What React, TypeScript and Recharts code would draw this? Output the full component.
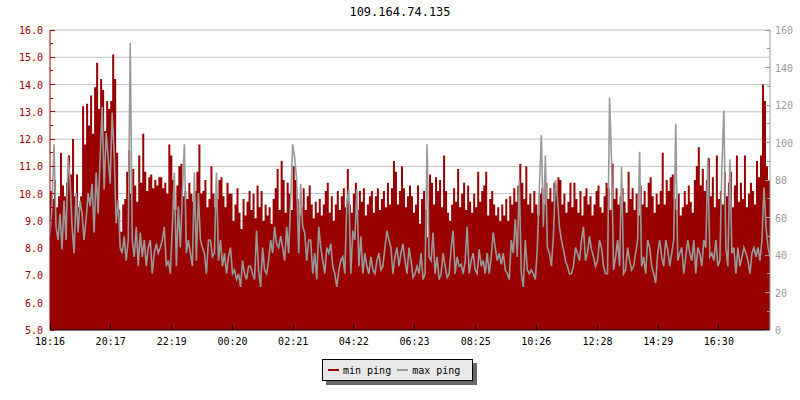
import React from "react";
import {
  Area,
  CartesianGrid,
  ComposedChart,
  Line,
  XAxis,
  YAxis,
} from "recharts";

const FONT = "'DejaVu Sans Mono', monospace";
const RED = "#990000";
const GRAY = "#999999";

const title = "109.164.74.135";

// one sample every 4 minutes, starting 18:16
const stepMinutes = 4;

const timeLabels = [
  "18:16", "20:17", "22:19", "00:20", "02:21", "04:22",
  "06:23", "08:25", "10:26", "12:28", "14:29", "16:30",
];

const leftTicks = [
  5, 5.5, 6, 6.5, 7, 7.5, 8, 8.5, 9, 9.5, 10, 10.5, 11, 11.5, 12, 12.5,
  13, 13.5, 14, 14.5, 15, 15.5, 16,
];
const gridValues = [6, 7, 8, 9, 10, 11, 12, 13, 14, 15, 16];
const rightTicks = [0, 10, 20, 30, 40, 50, 60, 70, 80, 90, 100, 110, 120, 130, 140, 150, 160];

// min ping (ms, left axis) 18:16 - 00:16
const minPingA = [
  10.1, 9.8, 10.5, 9.5, 9.9, 11.5, 10.3, 9.9, 10.4, 11.4,
  10.7, 12.0, 9.9, 10.7, 9.5, 9.9, 13.2, 11.8, 13.3, 12.5,
  13.6, 12.2, 13.9, 14.8, 13.1, 14.2, 13.8, 12.3, 13.4, 13.1,
  13.4, 15.1, 14.2, 11.5, 9.4, 8.6, 9.6, 9.8, 10.8, 11.6,
  10.0, 10.9, 10.3, 9.7, 11.4, 10.4, 12.2, 10.8, 10.1, 10.6,
  10.7, 10.2, 10.5, 10.3, 10.6, 10.6, 10.2, 10.4, 10.0, 11.8,
  11.4, 10.5, 9.4, 10.3, 11.0, 11.1, 9.9, 10.1, 9.8, 10.4,
  10.0, 9.7, 10.1, 10.8, 11.8, 10.0, 10.1, 10.5, 9.5, 9.8,
  11.0, 10.0, 9.5, 9.8, 10.5, 10.6, 9.9, 9.5, 10.4, 10.0,
];
// min ping 00:16 - 06:16
const minPingB = [
  10.0, 9.0, 9.6, 10.2, 9.3, 8.7, 9.8, 9.2, 9.7, 10.1,
  9.4, 10.0, 9.1, 10.3, 9.5, 10.1, 9.0, 9.6, 9.2, 9.5,
  8.9, 9.8, 10.2, 10.9, 9.4, 11.2, 10.5, 9.3, 10.4, 10.0,
  9.4, 11.0, 10.5, 9.8, 9.2, 9.5, 10.2, 9.4, 9.9, 10.3,
  9.6, 9.1, 9.7, 9.3, 9.8, 9.2, 9.6, 10.1, 10.4, 9.3,
  9.9, 9.0, 9.6, 10.1, 9.4, 9.9, 10.2, 9.5, 10.9, 9.6,
  9.3, 10.0, 10.4, 9.4, 10.1, 9.7, 10.2, 9.2, 9.6, 9.9,
  10.1, 9.3, 9.9, 10.2, 9.4, 9.8, 10.1, 9.5, 10.4, 9.6,
  10.2, 11.2, 10.8, 9.6, 10.1, 11.0, 10.2, 9.5, 9.9, 10.3,
];
// min ping 06:16 - 12:16
const minPingC = [
  9.9, 9.3, 9.6, 10.3, 8.9, 9.8, 10.1, 9.4, 8.4, 10.7,
  10.4, 9.6, 10.6, 10.1, 10.5, 9.5, 11.4, 10.1, 9.3, 9.0,
  9.6, 10.2, 9.7, 10.9, 9.5, 10.0, 10.4, 9.4, 10.3, 9.7,
  9.3, 10.0, 9.5, 10.8, 9.7, 10.1, 10.3, 10.8, 9.2, 9.8,
  10.1, 9.6, 9.2, 9.5, 9.0, 9.6, 9.2, 9.8, 9.0, 9.9,
  9.6, 10.2, 9.7, 10.3, 11.1, 10.4, 9.8, 11.0, 9.6, 10.0,
  9.3, 10.1, 9.6, 9.2, 10.0, 10.2, 9.6, 10.4, 9.8, 10.2,
  9.7, 10.4, 10.1, 10.6, 10.5, 9.6, 10.0, 9.3, 9.7, 10.4,
  9.5, 10.4, 9.8, 9.3, 10.1, 9.2, 9.9, 10.2, 9.6, 9.9,
];
// min ping 12:16 - 18:12
const minPingD = [
  9.2, 9.6, 10.1, 10.3, 9.5, 9.3, 9.9, 10.4, 10.2, 9.4,
  11.1, 9.8, 10.2, 9.6, 9.9, 10.2, 9.7, 9.3, 10.8, 9.8,
  10.2, 9.4, 10.0, 9.2, 10.3, 9.6, 10.1, 9.5, 10.4, 10.6,
  9.9, 9.3, 10.0, 9.6, 10.1, 11.5, 9.6, 10.5, 10.1, 10.6,
  10.7, 9.8, 9.4, 10.0, 9.2, 9.5, 10.1, 9.6, 10.3, 9.7,
  9.3, 10.5, 11.0, 11.7, 10.3, 10.9, 10.1, 10.5, 11.3, 9.9,
  10.6, 9.5, 11.4, 9.8, 10.1, 9.6, 10.8, 9.9, 10.4, 10.8,
  9.5, 10.3, 11.4, 9.7, 10.4, 9.8, 11.4, 9.5, 10.0, 10.4,
  10.1, 9.6, 11.2, 10.6, 11.4, 14.0, 13.4, 11.0, 10.5, 9.6,
];

// max ping (ms, right axis)
const maxPingA = [
  50, 66, 99, 55, 48, 62, 43, 69, 48, 92,
  80, 55, 41, 73, 52, 69, 62, 48, 59, 73,
  66, 78, 52, 84, 62, 92, 119, 75, 105, 92,
  78, 116, 94, 57, 69, 44, 41, 50, 37, 48,
  153, 48, 39, 55, 34, 52, 39, 48, 34, 44,
  48, 30, 41, 46, 41, 44, 48, 55, 34, 37,
  30, 55, 84, 34, 66, 44, 73, 99, 41, 48,
  41, 34, 84, 37, 73, 48, 44, 41, 30, 48,
  48, 39, 41, 84, 37, 48, 34, 41, 30, 39,
];
const maxPingB = [
  44, 30, 32, 27, 30, 23, 37, 30, 27, 34,
  34, 30, 27, 53, 32, 23, 44, 32, 30, 37,
  48, 41, 55, 46, 44, 50, 44, 37, 55, 41,
  69, 99, 92, 80, 41, 78, 55, 52, 37, 48,
  48, 30, 41, 27, 55, 44, 37, 30, 44, 41,
  46, 34, 30, 23, 32, 37, 39, 30, 68, 75,
  30, 53, 48, 75, 34, 50, 30, 41, 34, 30,
  39, 32, 30, 37, 41, 32, 34, 44, 53, 48,
  44, 30, 39, 44, 34, 41, 46, 37, 30, 44,
];
const maxPingC = [
  37, 28, 30, 34, 30, 41, 27, 30, 99, 39,
  37, 52, 30, 39, 27, 30, 41, 34, 28, 30,
  44, 53, 30, 39, 34, 35, 30, 37, 55, 30,
  37, 41, 32, 30, 43, 34, 37, 30, 41, 30,
  39, 52, 44, 37, 41, 35, 41, 32, 30, 27,
  48, 41, 59, 39, 80, 30, 23, 48, 32, 30,
  32, 30, 27, 44, 76, 104, 55, 93, 44, 41,
  34, 50, 80, 71, 55, 48, 43, 37, 34, 30,
  30, 34, 44, 41, 37, 48, 55, 37, 41, 50,
];
const maxPingD = [
  43, 39, 34, 37, 48, 44, 34, 30, 30, 124,
  90, 32, 39, 48, 34, 87, 30, 32, 44, 37,
  32, 34, 41, 48, 95, 34, 39, 30, 48, 44,
  34, 30, 25, 41, 48, 39, 34, 48, 43, 34,
  41, 48, 110, 37, 41, 44, 30, 39, 48, 41,
  37, 48, 30, 44, 41, 34, 48, 44, 91, 39,
  41, 37, 48, 34, 37, 87, 117, 44, 34, 91,
  41, 44, 30, 44, 34, 39, 44, 41, 37, 30,
  41, 44, 39, 44, 37, 48, 76, 55, 44, 39,
];

const minPing = [...minPingA, ...minPingB, ...minPingC, ...minPingD];
const maxPing = [...maxPingA, ...maxPingB, ...maxPingC, ...maxPingD];

const data = minPing.map((v, i) => ({
  t: i * stepMinutes,
  min: v,
  max: maxPing[i],
}));

const startMinutes = 18 * 60 + 16;
const xTicks = timeLabels.map((label) => {
  const [h, m] = label.split(":").map(Number);
  return (h * 60 + m - startMinutes + 1440) % 1440;
});
const labelFor = (t: number) => timeLabels[xTicks.indexOf(t)] ?? "";

function LeftTick(props: any) {
  const { x, y, payload } = props;
  const v = payload.value as number;
  const major = Number.isInteger(v);
  return (
    <g>
      <line x1={x} x2={x + (major ? 5 : 3)} y1={y} y2={y} stroke={RED} shapeRendering="crispEdges" />
      {major && (
        <text x={x - 7} y={y + 4} textAnchor="end" fill={RED} fontSize={10} fontFamily={FONT}>
          {v.toFixed(1)}
        </text>
      )}
    </g>
  );
}

function RightTick(props: any) {
  const { x, y, payload } = props;
  const v = payload.value as number;
  const major = v % 20 === 0;
  return (
    <g>
      <line x1={x} x2={x - (major ? 5 : 3)} y1={y} y2={y} stroke={GRAY} shapeRendering="crispEdges" />
      {major && (
        <text x={x + 5} y={y + 4} textAnchor="start" fill={GRAY} fontSize={10} fontFamily={FONT}>
          {v}
        </text>
      )}
    </g>
  );
}

function TimeTick(props: any) {
  const { x, y, payload } = props;
  return (
    <g>
      <line x1={x} x2={x} y1={y} y2={y - 5} stroke="#000" shapeRendering="crispEdges" />
      <text x={x} y={y + 15} textAnchor="middle" fill="#000" fontSize={10} fontFamily={FONT}>
        {labelFor(payload.value)}
      </text>
    </g>
  );
}

function LegendBox() {
  const item = (color: string, label: string) => (
    <span style={{ display: "inline-flex", alignItems: "center", marginRight: 6 }}>
      <span style={{ width: 11, height: 2, background: color, marginRight: 4 }} />
      {label}
    </span>
  );
  return (
    <div
      style={{
        position: "absolute",
        left: 322,
        top: 359,
        width: 151,
        height: 22,
        background: "#e8e8e8",
        border: "1px solid #000",
        boxShadow: "4px 4px 0 #666",
        fontFamily: FONT,
        fontSize: 10,
        display: "flex",
        alignItems: "center",
        paddingLeft: 5,
        boxSizing: "border-box",
        color: "#000",
      }}
    >
      {item(RED, "min ping")}
      {item(GRAY, "max ping")}
    </div>
  );
}

export default function App() {
  return (
    <div style={{ position: "absolute", left: 0, top: 0, width: 800, height: 400, background: "#fff" }}>
      <div
        style={{
          position: "absolute",
          top: 5,
          left: 0,
          width: 800,
          textAlign: "center",
          fontFamily: FONT,
          fontSize: 12,
          color: "#000",
        }}
      >
        {title}
      </div>
      <ComposedChart
        width={800}
        height={400}
        data={data}
        margin={{ top: 30, right: 0, bottom: 50, left: 0 }}
      >
        <CartesianGrid
          yAxisId="left"
          vertical={false}
          horizontalValues={gridValues}
          stroke="#c0c0c0"
          strokeDasharray=""
        />
        <XAxis
          dataKey="t"
          type="number"
          domain={[0, 1436]}
          ticks={xTicks}
          interval={0}
          height={20}
          tickSize={0}
          tickMargin={0}
          tickLine={false}
          axisLine={{ stroke: "#000" }}
          tick={<TimeTick />}
          allowDataOverflow
        />
        <YAxis
          yAxisId="left"
          orientation="left"
          width={50}
          domain={[5, 16]}
          ticks={leftTicks}
          interval={0}
          tickSize={0}
          tickMargin={0}
          tickLine={false}
          axisLine={{ stroke: RED }}
          tick={<LeftTick />}
          allowDataOverflow
        />
        <YAxis
          yAxisId="right"
          orientation="right"
          width={30}
          domain={[0, 160]}
          ticks={rightTicks}
          interval={0}
          tickSize={0}
          tickMargin={0}
          tickLine={false}
          axisLine={{ stroke: GRAY }}
          tick={<RightTick />}
          allowDataOverflow
        />
        <Area
          yAxisId="left"
          dataKey="min"
          type="stepAfter"
          stroke="none"
          fill={RED}
          fillOpacity={1}
          isAnimationActive={false}
        />
        <Line
          yAxisId="right"
          dataKey="max"
          type="linear"
          stroke={GRAY}
          strokeWidth={1.6}
          dot={false}
          activeDot={false}
          isAnimationActive={false}
        />
      </ComposedChart>
      <LegendBox />
    </div>
  );
}
